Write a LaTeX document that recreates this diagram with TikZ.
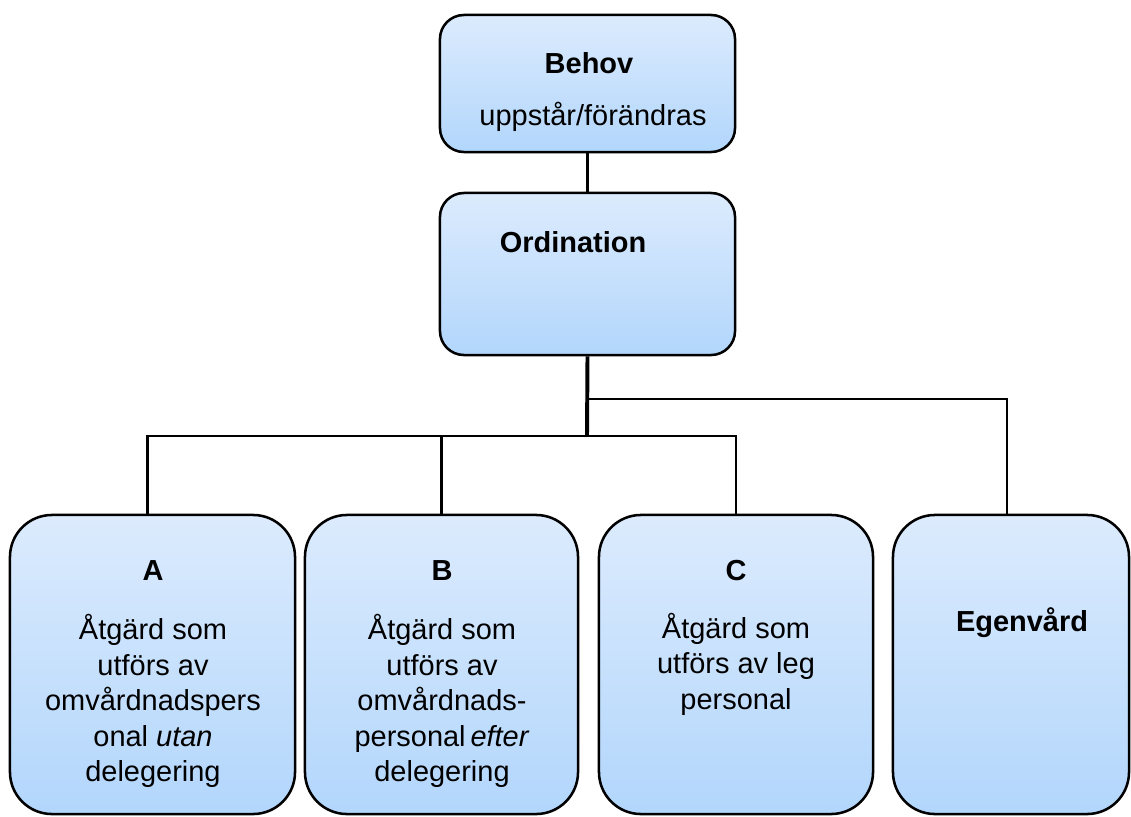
\documentclass[tikz,border=0pt]{standalone}
\usepackage{fontspec}
\setmainfont{Liberation Sans}
\usetikzlibrary{calc}
\definecolor{boxtop}{RGB}{220,235,253}
\definecolor{boxbot}{RGB}{178,214,252}
\tikzset{
	box/.style={draw=black, line width=1.8pt, top color=boxtop, bottom color=boxbot, inner sep=0pt},
	topbox/.style={box, rounded corners=0.6cm, minimum width=7.375cm},
	lowbox/.style={box, rounded corners=1.05cm, minimum height=7.475cm},
	txt/.style={align=center, inner sep=0pt, font=\fontsize{20.6}{25.3}\selectfont},
	head/.style={txt, font=\fontsize{20.6}{25.3}\selectfont\bfseries},
	wire/.style={line width=2.1pt},
}

\begin{document}
\begin{tikzpicture}[x=0.025cm, y=-0.025cm]
			%%%%% START %%%%%
			
			\useasboundingbox (0, 0) rectangle (1131, 816);
			
			\node[topbox, minimum height=3.425cm] (behov) at (587.5, 83.5) {};
			\node[head] (behovhead) at (589, 63) {Behov};
			\node[txt] (behovtxt) at (593, 117) {uppstår/förändras};
			
			\node[topbox, minimum height=4.05cm] (ordination) at (587.5, 274) {};
			\node[head] (ordhead) at (573, 242) {Ordination};
			
			\node[lowbox, minimum width=7.125cm] (a) at (152.5, 664.5) {};
			\node[lowbox, minimum width=6.825cm] (b) at (441.5, 664.5) {};
			\node[lowbox, minimum width=6.85cm] (c) at (736, 664.5) {};
			\node[lowbox, minimum width=5.9cm] (egen) at (1011, 664.5) {};
			
			\node[head] (ahead) at (153, 571) {A};
			\node[txt] (atxt) at (153, 701) {Åtgärd som\\utförs av\\omvårdnadspers\\onal \textit{utan}\\delegering};
			
			\node[head] (bhead) at (442, 571) {B};
			\node[txt] (btxt) at (442, 701) {Åtgärd som\\utförs av\\omvårdnads-\\personal\,\textit{efter}\\delegering};
			
			\node[head] (chead) at (736, 571) {C};
			\node[txt] (ctxt) at (736, 664) {Åtgärd som\\utförs av leg\\personal};
			
			\node[head] (egenhead) at (1022, 623) {Egenvård};
			
			% connectors
			\coordinate (fork) at (587, 436);
			\coordinate (fork2) at (587, 399);
			
			\draw[wire] (behov.south) -- (ordination.north);
			\draw[wire, line width=2.8pt] (ordination.south) -- (fork);
			\draw[wire] (fork2) -| ($(egen.north)+(-4, 0)$);
			\draw[wire] ($(a.north)+(-5, 0)$) |- (fork);
			\draw[wire] (c.north) |- (fork);
			\draw[wire] (b.north) -- (b.north |- fork);
			
			%%%%% END %%%%%
\end{tikzpicture}
\end{document}
